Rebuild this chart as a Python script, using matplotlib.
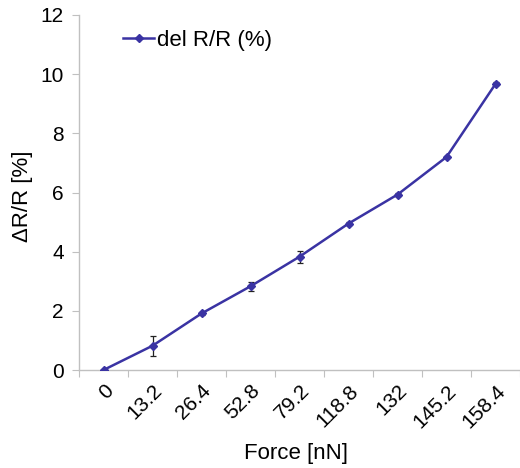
import numpy as np
import matplotlib
matplotlib.use("Agg")
import matplotlib.pyplot as plt

plt.rcParams["font.family"] = ["Liberation Sans", "DejaVu Sans"]

# --- data -----------------------------------------------------------------
force_labels = ["0", "13.2", "26.4", "52.8", "79.2", "118.8", "132", "145.2", "158.4"]
dR_R = [0.0, 0.82, 1.91, 2.83, 3.83, 4.95, 5.93, 7.2, 9.67]
dR_R_err = [0.0, 0.34, 0.05, 0.15, 0.2, 0.05, 0.05, 0.05, 0.05]

LINE = "#3a33a3"
AXIS = "#c0c0c0"

# --- figure ---------------------------------------------------------------
fig = plt.figure(figsize=(5.2, 4.68), dpi=100)
ax = fig.add_axes([79 / 520, 1 - 370 / 468, 441 / 520, 355 / 468])

x = np.arange(len(dR_R)) + 0.5
ax.errorbar(x, dR_R, yerr=dR_R_err, fmt="none", ecolor="#222222",
            elinewidth=0.9, capsize=2.5, capthick=0.9, zorder=2)
ax.plot(x, dR_R, color=LINE, lw=1.8, marker="D", ms=4.5,
        label="del R/R (%)", zorder=3)

ax.set_xlim(0, len(dR_R))
ax.set_ylim(0, 12)
ax.set_yticks(np.arange(0, 13, 2))

# category axis: tick marks on boundaries, labels on centres
ax.set_xticks(np.arange(len(dR_R) + 1))
ax.set_xticklabels([])
ax.set_xticks(x, minor=True)
ax.set_xticklabels(force_labels, minor=True, rotation=45, ha="right",
                   rotation_mode="anchor", fontsize=15)
ax.tick_params(axis="x", which="minor", length=0, pad=8)
ax.tick_params(axis="x", which="major", length=5, color=AXIS)
ax.tick_params(axis="y", length=5, color=AXIS, labelsize=15, pad=6)

for s in ("top", "right"):
    ax.spines[s].set_visible(False)
for s in ("left", "bottom"):
    ax.spines[s].set_color(AXIS)
    ax.spines[s].set_linewidth(1.0)

ax.set_xlabel("Force [nN]", fontsize=16, labelpad=6)
ax.xaxis.set_label_coords(0.492, -0.205)
ax.set_ylabel("ΔR/R [%]", fontsize=16)
ax.yaxis.set_label_coords(-0.105, 0.49)

ax.legend(loc="upper left", bbox_to_anchor=(0.055, 1.015), frameon=False,
          fontsize=16, handlelength=1.4, handletextpad=0.1)

fig.savefig("out.png", dpi=100)
